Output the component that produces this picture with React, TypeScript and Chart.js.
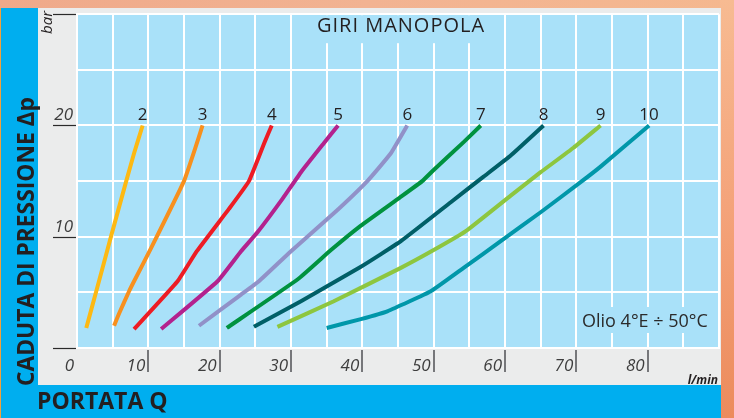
import React, { useEffect, useRef } from 'react';
import { Chart, registerables } from 'chart.js';

Chart.register(...registerables);

// ---- data ----
const seriesNames = ['2', '3', '4', '5', '6', '7', '8', '9', '10'];
const flow2 = [1.3, 2.7, 4.8, 6.9, 8.0, 9.2];
const drop2 = [1.8, 5.1, 10.1, 15, 17.5, 20];
const flow3 = [5.2, 5.9, 7.3, 8.0, 10.4, 15.0, 16.6, 17.6];
const drop3 = [2.0, 3.1, 5.1, 6.0, 9.0, 15, 18, 20];
const flow4 = [8.0, 14.1, 16.8, 21.3, 24.1, 26.3, 27.3];
const drop4 = [1.7, 6.0, 8.7, 12.5, 15, 18.5, 20];
const flow5 = [11.8, 19.7, 23.0, 25.3, 28.8, 31.4, 34.6, 36.6];
const drop5 = [1.7, 6.0, 8.7, 10.4, 13.4, 15.8, 18.4, 20];
const flow6 = [17.1, 23.0, 25.5, 30.0, 36.0, 40.7, 44.0, 46.3];
const drop6 = [2.0, 4.8, 6.0, 8.7, 12.1, 15, 17.5, 20];
const flow7 = [21.0, 31.0, 35.6, 39.8, 45.2, 48.4, 50.0, 54.2, 56.6];
const drop7 = [1.8, 6.2, 8.8, 11.0, 13.5, 15.0, 16.0, 18.5, 20];
const flow8 = [24.8, 31.4, 39.8, 45.4, 52.4, 57.0, 60.8, 65.4];
const drop8 = [1.9, 4.2, 7.3, 9.6, 13.1, 15.4, 17.3, 20];
const flow9 = [28.1, 36.0, 45.4, 50.0, 54.5, 60.8, 65.0, 69.6, 73.4];
const drop9 = [1.9, 4.2, 7.2, 8.8, 10.5, 13.7, 15.8, 18.0, 20];
const flow10 = [35.0, 39.8, 43.5, 49.6, 54.2, 59.4, 65.0, 70.6, 73.4, 80.2];
const drop10 = [1.8, 2.6, 3.3, 5.1, 7.2, 9.6, 12.2, 14.9, 16.3, 20];

const flows = [flow2, flow3, flow4, flow5, flow6, flow7, flow8, flow9, flow10];
const drops = [drop2, drop3, drop4, drop5, drop6, drop7, drop8, drop9, drop10];

const seriesColors = ['#fdb913', '#f7901e', '#ed1c24', '#b3228e', '#9191c8', '#00923f', '#005f67', '#8dc63f', '#0097a9'];

const xTickLabels = [0, 10, 20, 30, 40, 50, 60, 70, 80];
const xTickMarks = [10, 20, 30, 40, 50, 60, 70, 80];
const yTickLabels = [10, 20];
const yUnderlines = [0, 10, 20, 30];

const titleText = 'GIRI MANOPOLA';
const noteText = 'Olio 4°E ÷ 50°C';
const yTitle = 'CADUTA DI PRESSIONE Δp';
const xTitle = 'PORTATA Q';
const yUnit = 'bar';
const xUnit = 'l/min';

const FONT = '"Open Sans", "Noto Sans", sans-serif';
const PLOT_BG = '#a9e1f9';
const BLUE = '#00aeef';
const GRAY = '#ebecec';
const INK = '#231f20';

const framePlugin = {
  id: 'frame',
  beforeDraw(chart: any) {
    const { ctx, chartArea: a, width, height } = chart;
    ctx.save();
    const tg = ctx.createLinearGradient(0, 0, width, 0);
    tg.addColorStop(0, '#efa98a');
    tg.addColorStop(0.5, '#f2b392');
    tg.addColorStop(1, '#f5b88f');
    ctx.fillStyle = tg;
    ctx.fillRect(0, 0, width, height);
    const rg = ctx.createLinearGradient(0, 0, 0, height);
    rg.addColorStop(0, '#f7bb92');
    rg.addColorStop(0.5, '#f4a37a');
    rg.addColorStop(1, '#ec8b5c');
    ctx.fillStyle = rg;
    ctx.fillRect(a.right + 1, 0, width - a.right, height);
    const panelBottom = a.bottom + 37;
    ctx.fillStyle = GRAY;
    ctx.fillRect(38, 8, a.right + 2 - 38, panelBottom - 8);
    ctx.fillStyle = BLUE;
    ctx.fillRect(0, 8, 38, height - 8);
    ctx.fillRect(0, panelBottom, a.right + 2, height - panelBottom);
    ctx.fillStyle = '#f2a23c';
    ctx.fillRect(0, 8, 1, height - 8);
    ctx.fillStyle = PLOT_BG;
    ctx.fillRect(a.left, a.top, a.right - a.left, a.bottom - a.top);
    ctx.restore();
  },
  beforeDatasetsDraw(chart: any) {
    const { ctx, chartArea: a } = chart;
    ctx.save();
    // title box + title
    ctx.fillStyle = PLOT_BG;
    ctx.fillRect(296, a.top + 1, 204, 28);
    ctx.fillStyle = INK;
    ctx.font = `20px ${FONT}`;
    (ctx as any).letterSpacing = '1px';
    ctx.textAlign = 'center';
    ctx.textBaseline = 'alphabetic';
    ctx.fillText(titleText, 401, 32);
    (ctx as any).letterSpacing = '0px';
    // note box + note
    ctx.fillStyle = PLOT_BG;
    ctx.fillRect(578, 307, 134, 26);
    ctx.fillStyle = '#2b2b2b';
    ctx.font = `18px ${FONT}`;
    ctx.textAlign = 'left';
    ctx.fillText(noteText, 582, 327);
    ctx.restore();
  },
  afterDraw(chart: any) {
    const { ctx, chartArea: a, scales } = chart;
    const xs = scales.x;
    const ys = scales.y;
    ctx.save();
    // x tick marks
    ctx.strokeStyle = '#76777a';
    ctx.lineWidth = 2;
    xTickMarks.forEach((v) => {
      const px = Math.round(xs.getPixelForValue(v));
      ctx.beginPath();
      ctx.moveTo(px, a.bottom + 2);
      ctx.lineTo(px, a.bottom + 24);
      ctx.stroke();
    });
    // y underlines
    ctx.strokeStyle = '#2a2a2a';
    ctx.lineWidth = 1.2;
    yUnderlines.forEach((v) => {
      const py = Math.round(ys.getPixelForValue(v)) + 0.5;
      ctx.beginPath();
      ctx.moveTo(53, py);
      ctx.lineTo(a.left - 1, py);
      ctx.stroke();
    });
    // curve labels
    ctx.fillStyle = INK;
    ctx.font = `17px ${FONT}`;
    ctx.textAlign = 'center';
    ctx.textBaseline = 'alphabetic';
    chart.data.datasets.forEach((ds: any, i: number) => {
      const last = ds.data[ds.data.length - 1];
      const px = xs.getPixelForValue(last.x);
      const py = ys.getPixelForValue(last.y);
      ctx.fillText(seriesNames[i], px, py - 5);
    });
    // unit labels
    ctx.font = `italic 15px ${FONT}`;
    ctx.save();
    ctx.translate(52, 34);
    ctx.rotate(-Math.PI / 2);
    ctx.textAlign = 'left';
    ctx.fillText(yUnit, 0, 0);
    ctx.restore();
    ctx.font = `italic bold 12px ${FONT}`;
    ctx.textAlign = 'right';
    ctx.fillText(xUnit, 718, 384);
    // axis titles
    ctx.font = `bold 23px ${FONT}`;
    ctx.textAlign = 'left';
    ctx.fillText(xTitle, 37, 409);
    ctx.save();
    ctx.translate(34, 386);
    ctx.rotate(-Math.PI / 2);
    const w = ctx.measureText(yTitle).width;
    const target = 289;
    ctx.scale(target / w, 1);
    ctx.fillText(yTitle, 0, 0);
    ctx.restore();
    ctx.restore();
  },
};

export default function App() {
  const ref = useRef<HTMLCanvasElement | null>(null);
  useEffect(() => {
    if (!ref.current) return;
    const datasets = flows.map((f, i) => ({
      label: seriesNames[i],
      data: f.map((x, j) => ({ x, y: drops[i][j] })),
      borderColor: seriesColors[i],
      backgroundColor: seriesColors[i],
      borderWidth: 4,
      pointRadius: 0,
      tension: 0.12,
      fill: false,
    }));
    const chart = new Chart(ref.current, {
      type: 'line',
      data: { datasets },
      options: {
        animation: false,
        responsive: false,
        layout: { padding: { top: 9, right: 15, left: 0, bottom: 0 } },
        plugins: { legend: { display: false }, tooltip: { enabled: false } },
        scales: {
          x: {
            type: 'linear',
            min: 0,
            max: 90,
            ticks: {
              stepSize: 5,
              autoSkip: false,
              maxRotation: 0,
              align: 'end',
              labelOffset: -3,
              padding: 8,
              color: '#3d3d3d',
              font: { family: FONT, size: 17, style: 'italic' },
              callback: (v: any) => (xTickLabels.includes(Number(v)) ? String(v) : ''),
            },
            grid: { color: '#ffffff', lineWidth: 2, drawTicks: false },
            border: { color: '#ffffff', width: 2 },
            afterFit: (s: any) => {
              s.height = 70;
            },
          },
          y: {
            type: 'linear',
            min: 0,
            max: 30,
            ticks: {
              stepSize: 5,
              autoSkip: false,
              padding: 4,
              labelOffset: -10,
              color: '#3d3d3d',
              font: { family: FONT, size: 17, style: 'italic' },
              callback: (v: any) => (yTickLabels.includes(Number(v)) ? String(v) : ''),
            },
            grid: { color: '#ffffff', lineWidth: 2, drawTicks: false },
            border: { color: '#ffffff', width: 2 },
            afterFit: (s: any) => {
              s.width = 77;
            },
          },
        },
      } as any,
      plugins: [framePlugin],
    });
    return () => chart.destroy();
  }, []);
  return (
    <div style={{ position: 'absolute', left: 0, top: 0, width: 734, height: 418 }}>
      <canvas ref={ref} width={734} height={418} style={{ display: 'block' }} />
    </div>
  );
}
